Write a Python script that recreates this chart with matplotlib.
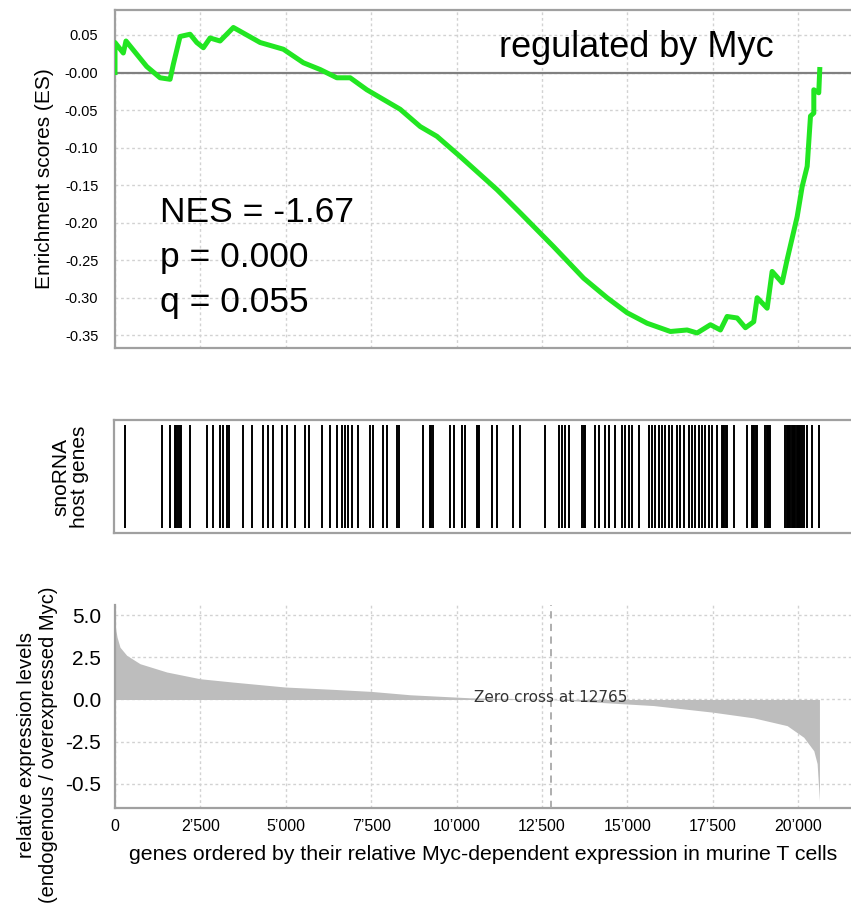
import matplotlib
matplotlib.use("Agg")
import matplotlib.pyplot as plt
import numpy as np

plt.rcParams['font.family'] = ['Liberation Sans', 'DejaVu Sans']

# ---------------- data ----------------
# running enrichment score (gene rank, ES)
es_rank = [0, 0, 243, 322, 929, 1319, 1612, 1708, 1905, 2198, 2394, 2587, 2784, 3077,
           3466, 3663, 4249, 4931, 5517, 6007, 6496, 6886, 7375, 8351, 8937, 9426,
           10109, 11184, 11867, 12842, 13721, 14407, 14993, 15579, 16262, 16751,
           17044, 17434, 17727, 17923, 18216, 18459, 18702, 18802, 19095, 19241,
           19534, 19681, 19974, 20120, 20267, 20364, 20461, 20461, 20606, 20635]
es_value = [0.000, 0.040, 0.026, 0.042, 0.008, -0.007, -0.009, 0.011, 0.048, 0.051,
            0.040, 0.033, 0.046, 0.042, 0.060, 0.055, 0.040, 0.031, 0.013, 0.004,
            -0.007, -0.007, -0.023, -0.049, -0.072, -0.085, -0.112, -0.156, -0.187,
            -0.232, -0.274, -0.300, -0.320, -0.334, -0.345, -0.343, -0.347, -0.336,
            -0.343, -0.325, -0.327, -0.340, -0.332, -0.300, -0.314, -0.265, -0.280,
            -0.249, -0.192, -0.152, -0.125, -0.058, -0.054, -0.023, -0.027, 0.004]

# ranks of snoRNA host genes (hits)
hit_ranks = [293, 1368, 1612, 1758, 1800, 1850, 1905, 1935, 2198, 2687, 2863, 3077, 3173,
             3273, 3349, 3742, 4005, 4345, 4492, 4638, 4884, 5031, 5274, 5567, 5684,
             6074, 6300, 6496, 6642, 6739, 6836, 6935, 7129, 7472, 7568, 7861, 7961,
             8254, 8321, 9033, 9230, 9265, 9303, 9816, 9912, 10158, 10255, 10607,
             10640, 10665, 11037, 11184, 11653, 11867, 12599, 12989, 13088, 13185,
             13282, 13683, 13720, 13756, 14064, 14161, 14357, 14454, 14650, 14846,
             14943, 15040, 15139, 15333, 15626, 15725, 15822, 15919, 16018, 16115,
             16212, 16311, 16458, 16555, 16651, 16798, 16897, 16994, 17091, 17190,
             17287, 17384, 17483, 17630, 17776, 17810, 17844, 17880, 17923, 18116,
             18509, 18655, 18690, 18723, 18760, 18802, 19045, 19080, 19118, 19155,
             19192, 19631, 19665, 19704, 19740, 19778, 19815, 19851, 19888, 19924,
             19960, 19998, 20035, 20071, 20120, 20169, 20267, 20413, 20606]

# ranked list metric (relative expression levels)
metric_rank = [0, 60, 146, 342, 733, 1514, 2490, 3466, 4981, 6397, 7500, 8644, 9620,
               10400, 12765, 15773, 17500, 18703, 19680, 20167, 20461, 20558, 20626]
metric_value = [4.4, 3.7, 3.1, 2.62, 2.12, 1.63, 1.23, 1.03, 0.74, 0.6, 0.48, 0.28, 0.18,
                0.1, 0.0, -0.36, -0.75, -1.09, -1.55, -2.24, -3.04, -3.8, -6.0]

zero_cross = 12765

es_ticks = [0.05, 0.0, -0.05, -0.10, -0.15, -0.20, -0.25, -0.30, -0.35]
es_ticklabels = ['0.05', '-0.00', '-0.05', '-0.10', '-0.15', '-0.20', '-0.25', '-0.30', '-0.35']
x_ticks = [0, 2500, 5000, 7500, 10000, 12500, 15000, 17500, 20000]
x_ticklabels = ['0', '2\u2019500', '5\u2019000', '7\u2019500', '10\u2019000', '12\u2019500',
                '15\u2019000', '17\u2019500', '20\u2019000']
m_ticks = [5.0, 2.5, 0.0, -2.5, -5.0]
m_ticklabels = ['5.0', '2.5', '0.0', '-2.5', '-0.5']
stats_lines = ['NES = -1.67', 'p = 0.000', 'q = 0.055']

# ---------------- layout ----------------
W, H = 851, 910
fig = plt.figure(figsize=(W / 100, H / 100), dpi=100)

def box(x0, y0, x1, y1):
    return [x0 / W, 1 - y1 / H, (x1 - x0) / W, (y1 - y0) / H]

XMAX = 21550
spine_c = '#a0a0a0'
grid_kw = dict(color='#d2d2d2', linestyle=(0, (2, 2)), linewidth=1.0)

# ---- top: ES ----
ax1 = fig.add_axes(box(115, 10, 851, 348))
ax1.set_xlim(0, XMAX)
ax1.set_ylim(-0.367, 0.0833)
ax1.set_xticks(x_ticks)
ax1.set_xticklabels([])
ax1.set_yticks(es_ticks)
ax1.set_yticklabels(es_ticklabels, fontsize=10.5)
ax1.tick_params(length=0, pad=12)
ax1.grid(True, **grid_kw)
ax1.set_axisbelow(True)
ax1.spines['right'].set_visible(False)
for s in ['left', 'top', 'bottom']:
    ax1.spines[s].set_color(spine_c)
    ax1.spines[s].set_linewidth(1.6)
ax1.axhline(0, color='#808080', lw=1.6, zorder=1)
ax1.plot(es_rank, es_value, color='#22e622', lw=3.6, solid_joinstyle='round', zorder=3)
ax1.set_ylabel('Enrichment scores (ES)', fontsize=15, labelpad=8)
for i, line in enumerate(stats_lines):
    ax1.text(1320, -0.1987 - 0.06 * i, line, fontsize=25.5, va='baseline', ha='left')
ax1.text(11250, 0.0213, 'regulated by Myc', fontsize=26, va='baseline', ha='left')

# ---- middle: barcode ----
ax2 = fig.add_axes(box(114, 420, 851, 533))
ax2.set_xlim(-29, XMAX)
ax2.set_ylim(0, 1)
ax2.vlines(hit_ranks, 0.04, 0.96, color='black', lw=1.4)
ax2.set_xticks([])
ax2.set_yticks([])
ax2.spines['right'].set_visible(False)
for s in ['left', 'top', 'bottom']:
    ax2.spines[s].set_color(spine_c)
    ax2.spines[s].set_linewidth(1.6)
ax2.set_ylabel('snoRNA\nhost genes', fontsize=15, labelpad=18, linespacing=0.95)

# ---- bottom: ranked metric ----
ax3 = fig.add_axes(box(115, 605, 851, 808))
ax3.set_xlim(0, XMAX)
ax3.set_ylim(-6.43, 5.6)
ax3.fill_between(metric_rank, 0, metric_value, color='#bdbdbd', lw=0, zorder=2)
ax3.set_xticks(x_ticks)
ax3.set_xticklabels(x_ticklabels, fontsize=11.5)
ax3.set_yticks(m_ticks)
ax3.set_yticklabels(m_ticklabels, fontsize=15)
ax3.tick_params(axis='y', length=0, pad=10)
ax3.tick_params(axis='x', length=0, pad=8)
ax3.grid(True, **grid_kw)
ax3.set_axisbelow(True)
for s in ['right', 'top']:
    ax3.spines[s].set_visible(False)
for s in ['left', 'bottom']:
    ax3.spines[s].set_color(spine_c)
    ax3.spines[s].set_linewidth(1.6)
ax3.axvline(zero_cross, color='#a8a8a8', lw=1.3, linestyle=(0, (4, 3)), zorder=3)
ax3.text(zero_cross, 0.1, 'Zero cross at 12765', fontsize=11, color='#333333',
         ha='center', va='center', family='DejaVu Sans', zorder=4)
ax3.set_xlabel('genes ordered by their relative Myc-dependent expression in murine T cells',
               fontsize=15.3, labelpad=8)
ax3.set_ylabel('relative expression levels\n(endogenous / overexpressed Myc)',
               fontsize=14.5, linespacing=1.2)
ax3.yaxis.set_label_coords(-0.078, 0.31)

fig.savefig('out.png', dpi=100)
